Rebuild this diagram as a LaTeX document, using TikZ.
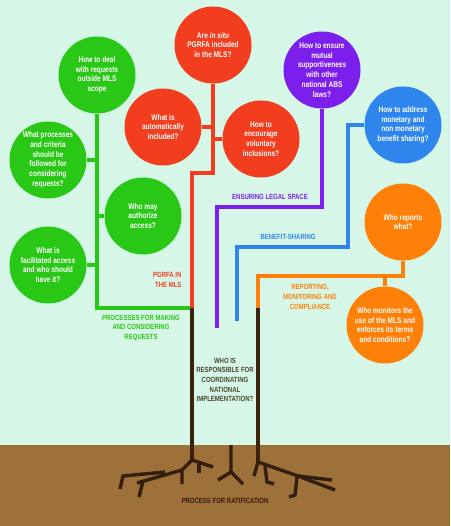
\documentclass[tikz,border=0pt]{standalone}
\usepackage{fontspec}
\setmainfont{Liberation Sans}[FakeStretch=0.8]
\usepackage{tikz}

\definecolor{mint}{RGB}{214,247,231}
\definecolor{soil}{RGB}{158,112,58}
\definecolor{bark}{RGB}{58,34,15}
\definecolor{rootc}{RGB}{50,30,13}
\definecolor{leafgreen}{RGB}{42,200,22}
\definecolor{leafred}{RGB}{242,62,30}
\definecolor{leafpurple}{RGB}{124,30,236}
\definecolor{leafblue}{RGB}{46,134,236}
\definecolor{leaforange}{RGB}{255,128,8}
\definecolor{olive}{RGB}{74,70,44}

\tikzset{
  leaf/.style={circle, minimum size=77pt, inner sep=0pt, align=center, text=white,
    font=\bfseries\fontsize{8.2}{9.7}\selectfont},
  branch/.style={line width=3.6pt},
  tag/.style={align=center, font=\bfseries\fontsize{7.5}{9.6}\selectfont},
  root/.style={rootc, line width=3.4pt}
}

\begin{document}
\begin{tikzpicture}[x=1pt,y=-1pt]
\useasboundingbox (0,0) rectangle (450,526);

\fill[mint] (0,0) rectangle (450,445);
\fill[soil] (0,445) rectangle (450,526);

% red
\node[leaf, fill=leafred] (insitu) at (213,45) {Are \textit{in situ}\\PGRFA included\\in the MLS?};
\node[leaf, fill=leafred] (automatic) at (163,127) {What is\\automatically\\included?};
\node[leaf, fill=leafred] (encourage) at (261,139) {How to\\encourage\\voluntary\\inclusions?};

% green
\node[leaf, fill=leafgreen] (outside) at (97,75) {How to deal\\with requests\\outside MLS\\scope};
\node[leaf, fill=leafgreen] (criteria) at (48,160) {What processes\\and criteria\\should be\\followed for\\considering\\requests?};
\node[leaf, fill=leafgreen] (authorize) at (143,216) {Who may\\authorize\\access?};
\node[leaf, fill=leafgreen] (facilitated) at (48,265) {What is\\facilitated access\\and who should\\have it?};

% purple, blue, orange
\node[leaf, fill=leafpurple] (mutual) at (322,70) {How to ensure\\mutual\\supportiveness\\with other\\national ABS\\laws?};
\node[leaf, fill=leafblue] (benefit) at (403,125) {How to address\\monetary and\\non monetary\\benefit sharing?};
\node[leaf, fill=leaforange] (reports) at (403,222) {Who reports\\what?};
\node[leaf, fill=leaforange] (monitors) at (385,325) {Who monitors the\\use of the MLS and\\enforces its terms\\and conditions?};

\coordinate (tleft) at (192,308);
\coordinate (tright) at (258,308);
\coordinate (lroot) at (192,460);
\coordinate (rroot) at (258,462);

\coordinate (gcorner) at (97,308);
\draw[branch, leafgreen] (outside.south) -- (gcorner) -- (tleft);
\draw[branch, leafgreen] (criteria.east) -- (criteria -| outside);
\draw[branch, leafgreen] (authorize.west) -- (authorize -| outside);
\draw[branch, leafgreen] (facilitated.east) -- (facilitated -| outside);

\coordinate (rknee) at (213,173);
\coordinate (rturn) at (192,173);
\draw[branch, leafred] (insitu.south) -- (rknee) -- (rturn) -- (tleft);
\draw[branch, leafred] (automatic.east) -- (automatic -| insitu);
\draw[branch, leafred] (encourage.west) -- (encourage -| insitu);

\coordinate (pknee) at (322,207);
\coordinate (pturn) at (217,207);
\coordinate (pend) at (217,328);
\draw[branch, leafpurple] (mutual.south) -- (pknee) -- (pturn) -- (pend);

\coordinate (bknee) at (348,125);
\coordinate (bdown) at (348,247);
\coordinate (bturn) at (237,247);
\coordinate (bend) at (237,321);
\draw[branch, leafblue] (benefit.west) -- (bknee) -- (bdown) -- (bturn) -- (bend);

\coordinate (oknee) at (403,276);
\coordinate (oturn) at (258,276);
\draw[branch, leaforange] (reports.south) -- (oknee) -- (oturn) -- (tright);
\draw[branch, leaforange] (monitors.north) -- (monitors.north |- oknee);

% trunk and roots
\draw[branch, bark] (tleft) -- (lroot);
\draw[branch, bark] (tright) -- (rroot);

\draw[root] (lroot) -- (213,467);
\draw[root] (199,464) -- (199,473);
\draw[root] (lroot) -- (182,470) -- (182,484);
\draw[root] (182,470) -- (137,483);
\draw[root] (165,472) -- (123,476) -- (120,489);
\draw[root] (143,481) -- (139,497);

\coordinate (mroot) at (231,472);
\draw[root] (231,445) -- (mroot) -- (218,480);
\draw[root] (mroot) -- (243,484);

\draw[root] (rroot) -- (254,476);
\draw[root] (rroot) -- (298,476) -- (335,490);
\draw[root] (298,476) -- (332,480);
\draw[root] (265,466) -- (267,482) -- (274,484);
\draw[root] (297,477) -- (295,495) -- (289,497);

% labels
\node[tag, text=leafred, align=right, anchor=east] (pgrfa) at (185,280) {PGRFA IN\\THE MLS};
\node[tag, text=leafgreen] (making) at (141,328) {PROCESSES FOR MAKING\\AND CONSIDERING\\REQUESTS};
\node[tag, text=leafpurple] (legal) at (270,197) {ENSURING LEGAL SPACE};
\node[tag, text=leafblue] (sharing) at (288,237) {BENEFIT-SHARING};
\node[tag, text=leaforange] (reporting) at (310,297) {REPORTING,\\MONITORING AND\\COMPLIANCE};
\node[tag, text=olive] (coordinating) at (225,380) {WHO IS\\RESPONSIBLE FOR\\COORDINATING\\NATIONAL\\IMPLEMENTATION?};
\node[tag, text=rootc] (ratification) at (225,501) {PROCESS FOR RATIFICATION};

\end{tikzpicture}
\end{document}
